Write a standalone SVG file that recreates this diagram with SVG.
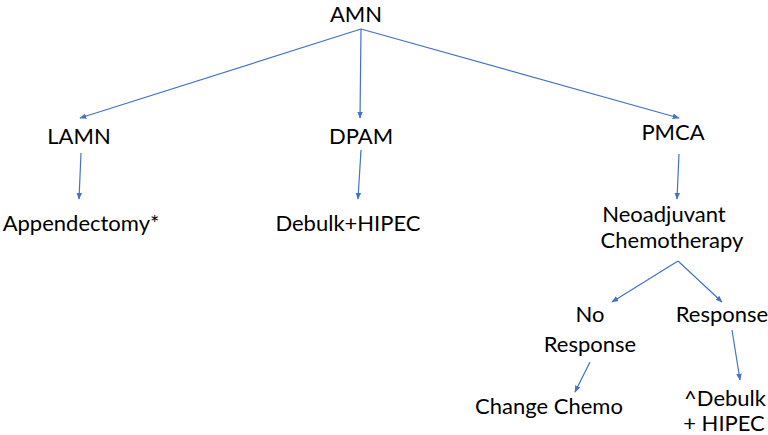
<svg xmlns="http://www.w3.org/2000/svg" width="768" height="435" viewBox="0 0 768 435">
<defs>
<marker id="ah" viewBox="0 0 10 10" refX="9" refY="5" markerWidth="7" markerHeight="7" orient="auto" markerUnits="userSpaceOnUse">
<path d="M0,1 L10,5 L0,9 z" fill="#4472C4"/>
</marker>
</defs>
<style>
text{font-family:Lato,"Open Sans","Liberation Sans",sans-serif;font-size:22px;fill:#000}
.c{stroke:#4472C4;stroke-width:1.2;fill:none;marker-end:url(#ah)}
</style>
<rect width="768" height="435" fill="#fff"/>
<g id="connectors">
<line class="c" x1="361" y1="29" x2="80" y2="118"/>
<line class="c" x1="361" y1="29" x2="360" y2="118"/>
<line class="c" x1="361" y1="29" x2="679" y2="118"/>
<line class="c" x1="81" y1="153" x2="79" y2="199"/>
<line class="c" x1="361" y1="150" x2="358" y2="199"/>
<line class="c" x1="679" y1="154" x2="677" y2="199"/>
<line class="c" x1="678" y1="261" x2="612" y2="302"/>
<line class="c" x1="678" y1="261" x2="722" y2="302"/>
<line class="c" x1="590" y1="362" x2="575" y2="392"/>
<line class="c" x1="732" y1="330" x2="740" y2="380"/>
</g>
<g id="amn"><text x="356" y="22" text-anchor="middle" font-size="26">AMN</text></g>
<g id="lamn"><text x="79" y="144" text-anchor="middle">LAMN</text></g>
<g id="dpam"><text x="361" y="144" text-anchor="middle">DPAM</text></g>
<g id="pmca"><text x="673" y="140" text-anchor="middle">PMCA</text></g>
<g id="appendectomy"><text x="81" y="231" text-anchor="middle">Appendectomy*</text></g>
<g id="debulk"><text x="348" y="231" text-anchor="middle">Debulk+HIPEC</text></g>
<g id="neo"><text x="664" y="222" text-anchor="middle">Neoadjuvant</text><text x="672" y="248" text-anchor="middle">Chemotherapy</text></g>
<g id="noresp"><text x="590" y="322" text-anchor="middle">No</text><text x="590" y="352" text-anchor="middle">Response</text></g>
<g id="resp"><text x="722" y="322" text-anchor="middle">Response</text></g>
<g id="change"><text x="549" y="414" text-anchor="middle">Change Chemo</text></g>
<g id="debulk2"><text x="725" y="406" text-anchor="middle">^Debulk</text><text x="724" y="431" text-anchor="middle">+ HIPEC</text></g>
</svg>
